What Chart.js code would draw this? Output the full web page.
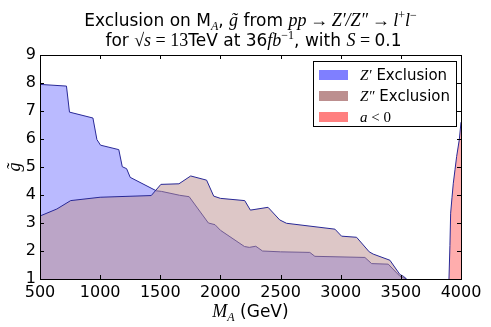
<!DOCTYPE html>
<html>
<head>
<meta charset="utf-8">
<script src="https://cdn.jsdelivr.net/npm/chart.js@4.4.1/dist/chart.umd.min.js"></script>
<style>
  html, body { margin: 0; padding: 0; background: #fff; }
  #wrap { width: 491px; height: 327px; }
</style>
</head>
<body>
<div id="wrap"><canvas id="exclusionChart" width="491" height="327"></canvas></div>
<script>
// upper edge of the Z' excluded region
const zPrimeMass = [500, 720, 745, 940, 973, 1003, 1155, 1184, 1220, 1250, 1467, 1509, 1661, 1740, 1900, 1955, 2000, 2200, 2240, 2294, 2350, 2500, 2743, 2785, 3201, 3257, 3395, 3492, 3530, 3545];
const zPrimeG = [7.95, 7.89, 6.96, 6.75, 5.98, 5.78, 5.62, 5.01, 4.94, 4.63, 4.15, 4.13, 3.99, 3.94, 3.0, 2.94, 2.74, 2.16, 2.13, 2.17, 2.0, 1.97, 1.95, 1.81, 1.77, 1.55, 1.53, 1.10, 1.03, 1.0];

// upper edge of the Z'' excluded region
const zDoubleMass = [500, 640, 755, 1000, 1425, 1505, 1655, 1753, 1885, 1944, 2000, 2202, 2249, 2396, 2493, 2549, 2952, 3007, 3132, 3237, 3270, 3409, 3492, 3520, 3548];
const zDoubleG = [3.25, 3.5, 3.8, 3.92, 3.98, 4.38, 4.40, 4.68, 4.53, 3.96, 3.88, 3.80, 3.46, 3.56, 3.11, 2.99, 2.78, 2.53, 2.49, 1.97, 1.89, 1.67, 1.16, 1.10, 1.0];

// boundary of the a < 0 region
const negAMass = [3900, 3908, 3914, 3925, 3936, 3950, 3964, 3986, 4000];
const negAG = [1.0, 2.2, 3.35, 3.9, 4.42, 4.9, 5.38, 5.98, 6.6];

const xTicks = [500, 1000, 1500, 2000, 2500, 3000, 3500, 4000];
const yTicks = [1, 2, 3, 4, 5, 6, 7, 8, 9];

const legendLabels = ["Exclusion", "Exclusion", ""];

const SANS = "'DejaVu Sans', sans-serif";
const MATH = "'Liberation Serif', serif";
const edge = "rgba(40, 40, 150, 1)";

function pts(xs, ys) {
    return xs.map((x, i) => ({ x: x, y: ys[i] }));
}

// draws a row of mixed-font text pieces, centred on cx
function drawRuns(ctx, runs, cx, y) {
    let total = 0;
    runs.forEach(r => { ctx.font = r.f; total += ctx.measureText(r.t).width; });
    let x = cx - total / 2;
    ctx.textBaseline = "alphabetic";
    ctx.textAlign = "left";
    runs.forEach(r => {
        ctx.font = r.f;
        ctx.fillText(r.t, x, y + (r.dy || 0));
        x += ctx.measureText(r.t).width;
    });
}

function runsLeft(ctx, runs, x, y) {
    let w = 0;
    runs.forEach(r => { ctx.font = r.f; w += ctx.measureText(r.t).width; });
    drawRuns(ctx, runs, x + w / 2, y);
}

const decor = {
    id: "decor",
    afterDraw(chart) {
        const ctx = chart.ctx;
        const a = chart.chartArea;
        const xs = chart.scales.x, ys = chart.scales.y;
        ctx.save();
        ctx.fillStyle = "#000";

        // frame + inward ticks
        ctx.strokeStyle = "#000";
        ctx.lineWidth = 1;
        ctx.strokeRect(Math.round(a.left) + 0.5, Math.round(a.top) + 0.5, Math.round(a.right - a.left), Math.round(a.bottom - a.top));
        ctx.beginPath();
        xTicks.forEach(v => {
            const px = Math.round(xs.getPixelForValue(v)) + 0.5;
            ctx.moveTo(px, a.bottom); ctx.lineTo(px, a.bottom - 4);
            ctx.moveTo(px, a.top); ctx.lineTo(px, a.top + 4);
        });
        yTicks.forEach(v => {
            const py = Math.round(ys.getPixelForValue(v)) + 0.5;
            ctx.moveTo(a.left, py); ctx.lineTo(a.left + 4, py);
            ctx.moveTo(a.right, py); ctx.lineTo(a.right - 4, py);
        });
        ctx.stroke();

        // title
        const n = "17px " + SANS, m = "italic 18px " + MATH, mu = "18px " + MATH;
        const sub = "italic 12px " + MATH, sup = "12px " + MATH;
        drawRuns(ctx, [
            { t: "Exclusion on M", f: n }, { t: "A", f: sub, dy: 4 }, { t: ", ", f: n },
            { t: "g\u0303", f: m }, { t: " from ", f: n }, { t: "pp", f: m }, { t: "\u2009\u2192\u2009", f: mu },
            { t: "Z\u2032/Z\u2033", f: m }, { t: "\u2009\u2192\u2009", f: mu },
            { t: "l", f: m }, { t: "+", f: sup, dy: -7 }, { t: "l", f: m }, { t: "\u2212", f: sup, dy: -7 }
        ], (a.left + a.right) / 2, 26);
        drawRuns(ctx, [
            { t: "for ", f: n }, { t: "\u221A", f: mu }, { t: "s", f: m }, { t: " = ", f: mu },
            { t: "13", f: mu }, { t: "TeV at 36", f: n }, { t: "fb", f: m }, { t: "\u22121", f: sup, dy: -7 },
            { t: ", with ", f: n }, { t: "S", f: m }, { t: " = ", f: mu }, { t: "0.1", f: n }
        ], (a.left + a.right) / 2 + 3, 46);

        // x axis title
        drawRuns(ctx, [
            { t: "M", f: "italic 18px " + MATH }, { t: "A", f: sub, dy: 4 }, { t: " (GeV)", f: n }
        ], (a.left + a.right) / 2, 317);

        // y axis title
        ctx.save();
        ctx.translate(20, (a.top + a.bottom) / 2);
        ctx.rotate(-Math.PI / 2);
        drawRuns(ctx, [{ t: "g\u0303", f: "italic 18px " + MATH }], 0, 0);
        ctx.restore();

        // legend
        const lx = 313.5, ly = 61.5, lw = 143, lh = 65;
        ctx.fillStyle = "#fff";
        ctx.fillRect(lx, ly, lw, lh);
        ctx.strokeRect(lx, ly, lw, lh);
        const swatch = ["rgba(0, 0, 255, 0.5)", "rgba(188, 143, 143, 1)", "rgba(255, 0, 0, 0.5)"];
        const names = [
            [{ t: "Z\u2032", f: "italic 15px " + MATH }, { t: " " + legendLabels[0], f: "15px " + SANS }],
            [{ t: "Z\u2033", f: "italic 15px " + MATH }, { t: " " + legendLabels[1], f: "15px " + SANS }],
            [{ t: "a", f: "italic 15px " + MATH }, { t: " < ", f: "15px " + MATH }, { t: "0", f: "15px " + MATH }]
        ];
        swatch.forEach((c, i) => {
            const cy = 75 + i * 21;
            ctx.fillStyle = c;
            ctx.fillRect(319, cy - 5, 29, 10);
            ctx.fillStyle = "#000";
            runsLeft(ctx, names[i], 360, cy + 5);
        });
        ctx.restore();
    }
};

new Chart(document.getElementById("exclusionChart").getContext("2d"), {
    type: "line",
    data: {
        datasets: [
            {
                label: "Z' Exclusion",
                data: pts(zPrimeMass, zPrimeG),
                borderColor: edge,
                borderWidth: 1,
                backgroundColor: "rgba(0, 0, 255, 0.27)",
                fill: "start",
                pointRadius: 0,
                tension: 0,
                order: 2
            },
            {
                label: "Z'' Exclusion",
                data: pts(zDoubleMass, zDoubleG),
                borderColor: edge,
                borderWidth: 1,
                backgroundColor: "rgba(188, 143, 143, 0.5)",
                fill: "start",
                pointRadius: 0,
                tension: 0,
                order: 1
            },
            {
                label: "a < 0",
                data: pts(negAMass, negAG),
                borderColor: edge,
                borderWidth: 1,
                backgroundColor: "rgba(255, 0, 0, 0.32)",
                fill: "start",
                pointRadius: 0,
                tension: 0,
                order: 0
            }
        ]
    },
    options: {
        responsive: false,
        animation: false,
        layout: { padding: { top: 55, right: 30, left: 0, bottom: 0 } },
        plugins: {
            legend: { display: false },
            tooltip: { enabled: false },
            title: { display: false }
        },
        scales: {
            x: {
                type: "linear",
                min: 500,
                max: 4000,
                afterBuildTicks: s => { s.ticks = xTicks.map(v => ({ value: v })); },
                afterFit: s => { s.height = 48; },
                grid: { display: false, drawTicks: false },
                border: { display: false },
                ticks: { color: "#000", padding: 4, maxRotation: 0, font: { family: SANS, size: 16 }, callback: v => String(v) }
            },
            y: {
                min: 1,
                max: 9,
                afterBuildTicks: s => { s.ticks = yTicks.map(v => ({ value: v })); },
                afterFit: s => { s.width = 40; },
                grid: { display: false, drawTicks: false },
                border: { display: false },
                ticks: { color: "#000", padding: 4, font: { family: SANS, size: 16 }, callback: v => String(v) }
            }
        }
    },
    plugins: [decor]
});
</script>
</body>
</html>
